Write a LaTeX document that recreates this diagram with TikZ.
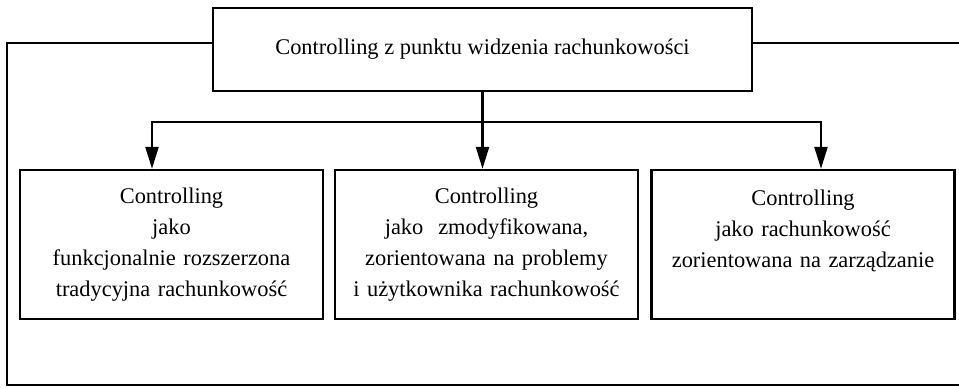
\documentclass[tikz,border=0pt]{standalone}
\usepackage{fontspec}
\setmainfont{Liberation Serif}
\usepackage{tikz}
\usetikzlibrary{arrows.meta}

\tikzset{
  box/.style={draw,line width=1.2pt,inner sep=0pt,align=center,font=\fontsize{11.2}{15.5}\selectfont},
  subbox/.style={box,minimum width=151.5pt,minimum height=74.5pt,text width=148pt},
  link/.style={line width=1.2pt,line cap=rect},
  arr/.style={link,-{Triangle[length=11pt,width=6.5pt]}}
}

\begin{document}
\begin{tikzpicture}[x=0.5pt,y=-0.5pt]
\useasboundingbox (0,0) rectangle (959,387);

\node[box,minimum width=269.5pt,minimum height=41.5pt] (top) at (482.5,49.5) {Controlling z punktu widzenia rachunkowości};

\node[subbox] (acc1) at (171.5,244.5) {Controlling\\jako\\funkcjonalnie rozszerzona\\tradycyjna rachunkowość};
\node[subbox] (acc2) at (486.5,244.5) {Controlling\\jako\ \ zmodyfikowana,\\zorientowana na problemy\\i użytkownika rachunkowość};
\node[subbox] (acc3) at (803,244.5) {Controlling\\jako rachunkowość\\zorientowana na zarządzanie\\\mbox{}};

\coordinate (busL) at (152,122);
\coordinate (busR) at (821,122);
\coordinate (lt) at (7,43);
\coordinate (lb) at (7,385);
\coordinate (rt) at (959,43);
\coordinate (rb) at (959,385);

\draw[link] (busL) -- (busR);
\draw[arr] (busL) -- (busL |- acc1.north);
\draw[arr] (top.south) -- (top.south |- acc2.north);
\draw[arr] (busR) -- (busR |- acc3.north);

\draw[link] (top.west |- lt) -- (lt) -- (lb) -- (rb);
\draw[link] (top.east |- rt) -- (rt);
\end{tikzpicture}
\end{document}
